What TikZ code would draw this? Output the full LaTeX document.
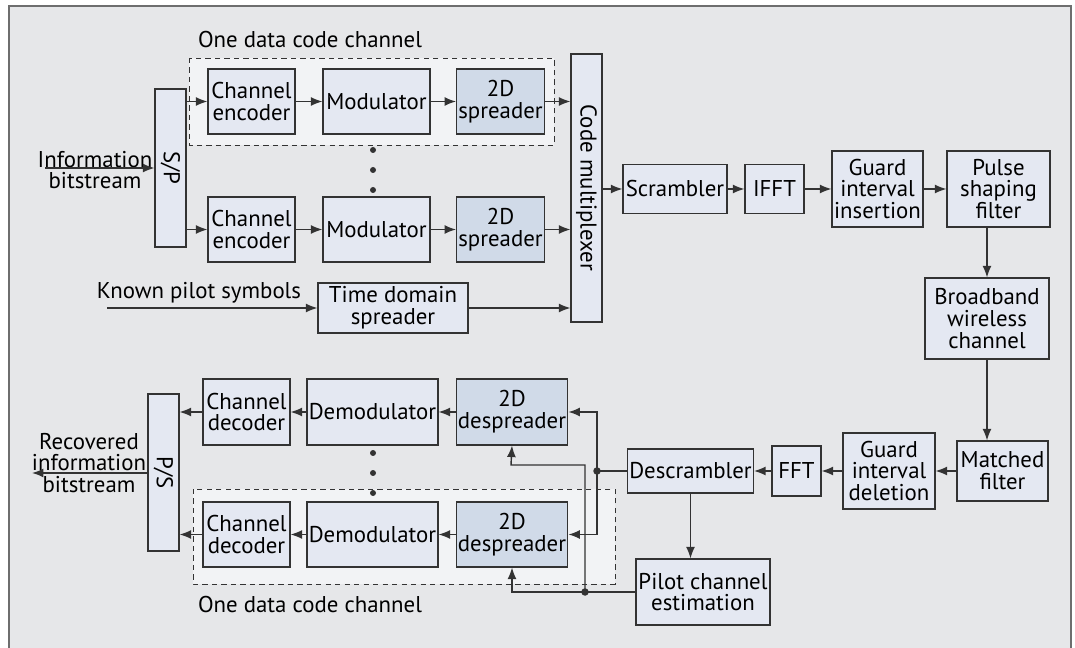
\documentclass[tikz,border=0pt]{standalone}
\usepackage{fontspec}
\setmainfont{PT Sans}
\usepackage{tikz}
\usetikzlibrary{calc,arrows.meta}
\definecolor{bgc}{HTML}{E6E7E9}
\definecolor{framec}{HTML}{6E6E6E}
\definecolor{boxc}{HTML}{E4E8F2}
\definecolor{sprc}{HTML}{D0DAE8}
\definecolor{grpc}{HTML}{F2F3F5}
\definecolor{linec}{HTML}{333333}

\begin{document}
\begin{tikzpicture}[x=0.02cm, y=-0.02cm,
  font=\fontsize{13}{12.4}\selectfont,
  blk/.style={draw=linec, fill=boxc, line width=0.65pt, align=center, inner sep=1pt},
  sprd/.style={blk, fill=sprc},
  arr/.style={draw=linec, line width=0.8pt, -{Latex[length=2.3mm,width=1.8mm]}},
  wire/.style={draw=linec, line width=0.8pt},
  grp/.style={draw=linec, fill=grpc, line width=0.55pt, dash pattern=on 3pt off 2.4pt}]
\useasboundingbox (0,0) rectangle (1075,648);
\draw[framec, fill=bgc, line width=0.9pt] (9,6) rectangle (1071,660);

% dashed channel groups
\draw[grp] (189,58) rectangle (554,145);
\draw[grp] (193,489) rectangle (615,584);
\node (grp1) at (310,40) {One data code channel};
\node (grp2) at (310,605) {One data code channel};

% transmitter
\node[blk, minimum width=0.62cm, minimum height=3.16cm, label={[rotate=-90]center:S/P}] (sp) at (170.5,168) {};
\node[blk, minimum width=1.74cm, minimum height=1.30cm] (enc1) at (251.5,101.5) {Channel\\encoder};
\node[blk, minimum width=2.14cm, minimum height=1.30cm] (mod1) at (376.5,101.5) {Modulator};
\node[sprd, minimum width=1.74cm, minimum height=1.30cm] (spr1) at (500.5,101.5) {2D\\spreader};
\node[blk, minimum width=1.74cm, minimum height=1.30cm] (enc2) at (251.5,229.5) {Channel\\encoder};
\node[blk, minimum width=2.14cm, minimum height=1.30cm] (mod2) at (376.5,229.5) {Modulator};
\node[sprd, minimum width=1.74cm, minimum height=1.30cm] (spr2) at (500.5,229.5) {2D\\spreader};
\node[blk, minimum width=3.00cm, minimum height=1.00cm] (tds) at (393,308) {Time domain\\spreader};
\node[blk, minimum width=0.62cm, minimum height=5.36cm, label={[rotate=-90]center:Code multiplexer}] (mux) at (586.5,188) {};
\node[blk, minimum width=2.08cm, minimum height=0.98cm] (scr) at (675,189) {Scrambler};
\node[blk, minimum width=1.18cm, minimum height=0.98cm] (ifft) at (774.5,189) {IFFT};
\node[blk, minimum width=1.82cm, minimum height=1.52cm] (gii) at (877.5,189) {Guard\\interval\\insertion};
\node[blk, minimum width=2.06cm, minimum height=1.52cm] (psf) at (998.5,189) {Pulse\\shaping\\filter};
\node[blk, minimum width=2.48cm, minimum height=1.62cm] (bwc) at (987,318.5) {Broadband\\wireless\\channel};

\node[align=center] (info) at (95,170) {Information\\bitstream};
\node (pilot) at (199,293) {Known pilot symbols};
\coordinate (infoin) at (45,168);
\coordinate (pilotin) at (107,308);

\foreach \y in {150,170,190}
  \fill[linec] (373,\y) circle (0.06cm);

\draw[arr] (infoin) -- (infoin -| sp.west);
\draw[arr] (sp.east |- enc1) -- (enc1);
\draw[arr] (sp.east |- enc2) -- (enc2);
\draw[arr] (enc1) -- (mod1);
\draw[arr] (mod1) -- (spr1);
\draw[arr] (spr1) -- (mux.west |- spr1);
\draw[arr] (enc2) -- (mod2);
\draw[arr] (mod2) -- (spr2);
\draw[arr] (spr2) -- (mux.west |- spr2);
\draw[arr] (pilotin) -- (tds);
\draw[arr] (tds) -- (mux.west |- tds);
\draw[arr] (mux.east |- scr) -- (scr);
\draw[arr] (scr) -- (ifft);
\draw[arr] (ifft) -- (gii);
\draw[arr] (gii) -- (psf);
\draw[arr] (psf.south -| bwc) -- (bwc);

% receiver
\node[blk, minimum width=1.82cm, minimum height=1.20cm] (mf) at (1002.5,471) {Matched\\filter};
\node[blk, minimum width=1.84cm, minimum height=1.52cm] (gid) at (889,471) {Guard\\interval\\deletion};
\node[blk, minimum width=0.98cm, minimum height=1.00cm] (fft) at (796.5,471) {FFT};
\node[blk, minimum width=2.46cm, minimum height=0.88cm] (dscr) at (690.5,471) {Descrambler};
\node[blk, minimum width=2.68cm, minimum height=1.32cm] (pce) at (703,592) {Pilot channel\\estimation};
\node[sprd, minimum width=2.20cm, minimum height=1.32cm] (dsp1) at (512,412) {2D\\despreader};
\node[sprd, minimum width=2.20cm, minimum height=1.30cm] (dsp2) at (512,534.5) {2D\\despreader};
\node[blk, minimum width=2.58cm, minimum height=1.32cm] (dem1) at (372.5,412) {Demodulator};
\node[blk, minimum width=2.58cm, minimum height=1.30cm] (dem2) at (372.5,534.5) {Demodulator};
\node[blk, minimum width=1.74cm, minimum height=1.32cm] (dec1) at (246.5,412) {Channel\\decoder};
\node[blk, minimum width=1.74cm, minimum height=1.30cm] (dec2) at (246.5,534.5) {Channel\\decoder};
\node[blk, minimum width=0.62cm, minimum height=3.14cm, label={[rotate=-90]center:P/S}] (ps) at (163.5,472.5) {};
\node[align=center] (rec) at (89,463) {Recovered\\information\\bitstream};
\coordinate (recout) at (32,473);
\coordinate (j1) at (597,471);
\coordinate (j2) at (585,592);
\coordinate (k1) at (511,465);

\foreach \y in {453,473,493}
  \fill[linec] (373,\y) circle (0.06cm);

\draw[arr] (bwc) -- (bwc |- mf.north);
\draw[arr] (mf) -- (gid);
\draw[arr] (gid) -- (fft);
\draw[arr] (fft) -- (dscr);
\draw[arr] (dscr.south) -- (dscr.south |- pce.north);
\draw[wire] (dscr) -- (j1);
\draw[arr] (j1) |- (dsp1);
\draw[arr] (j1) |- (dsp2);
\draw[wire] (pce) -- (j2);
\draw[arr] (j2) -| (dsp2.south);
\draw[arr] (j2) |- (k1) -- (dsp1.south);
\fill[linec] (j1) circle (0.075cm);
\fill[linec] (j2) circle (0.075cm);
\draw[arr] (dsp1) -- (dem1);
\draw[arr] (dem1) -- (dec1);
\draw[arr] (dec1) -- (ps.east |- dec1);
\draw[arr] (dsp2) -- (dem2);
\draw[arr] (dem2) -- (dec2);
\draw[arr] (dec2) -- (ps.east |- dec2);
\draw[arr] (ps.west |- recout) -- (recout);
\end{tikzpicture}
\end{document}
